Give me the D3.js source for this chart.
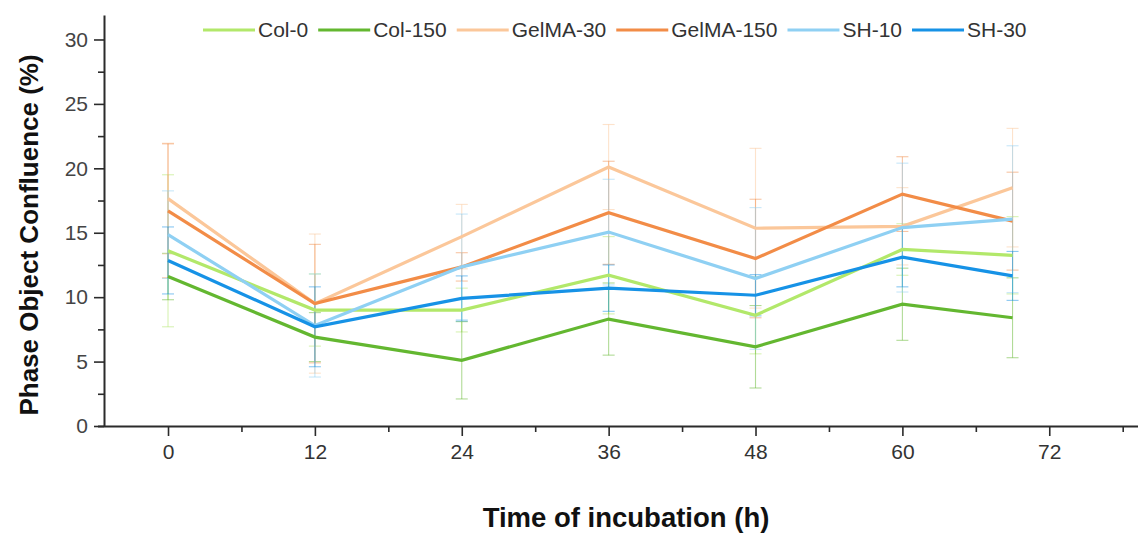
<!DOCTYPE html>
<html>
<head>
<meta charset="utf-8">
<script src="https://cdn.jsdelivr.net/npm/d3@7"></script>
<style>
  html, body { margin: 0; padding: 0; background: #fff; }
  svg { display: block; font-family: "Liberation Sans", Arial, sans-serif; }
</style>
</head>
<body>
<svg id="chart" width="1138" height="533"></svg>
<script>
// ---- data ----
const hours = [0, 12, 24, 36, 48, 60, 69];
const seriesNames = ["Col-0", "Col-150", "GelMA-30", "GelMA-150", "SH-10", "SH-30"];
const col0      = [13.6, 9.0, 9.0, 11.7, 8.6, 13.7, 13.25];
const col150    = [11.6, 6.9, 5.1, 8.3, 6.15, 9.45, 8.4];
const gelma30   = [17.65, 9.5, 14.7, 20.1, 15.35, 15.5, 18.5];
const gelma150  = [16.7, 9.5, 12.35, 16.55, 13.0, 18.0, 15.9];
const sh10      = [14.85, 7.8, 12.35, 15.05, 11.45, 15.4, 16.05];
const sh30      = [12.85, 7.7, 9.9, 10.7, 10.15, 13.1, 11.65];
const col0Err     = [5.9, 2.8, 1.7, 3.0, 3.0, 2.0, 3.0];
const col150Err   = [1.8, 1.9, 3.0, 2.8, 3.2, 2.8, 3.1];
const gelma30Err  = [4.3, 5.4, 2.5, 3.3, 6.2, 3.0, 4.6];
const gelma150Err = [5.2, 4.6, 1.1, 4.0, 4.6, 2.9, 3.8];
const sh10Err     = [3.4, 4.0, 4.1, 4.1, 5.5, 5.0, 5.7];
const sh30Err     = [2.6, 3.1, 1.75, 1.8, 1.6, 2.3, 1.9];
const xTicks = [0, 12, 24, 36, 48, 60, 72];
const yTicks = [0, 5, 10, 15, 20, 25, 30];
const xTitle = "Time of incubation (h)";
const yTitle = "Phase Object Confluence (%)";

const values = [col0, col150, gelma30, gelma150, sh10, sh30];
const errors = [col0Err, col150Err, gelma30Err, gelma150Err, sh10Err, sh30Err];
const colors = ["#b2e86a", "#63b730", "#fbc79a", "#f28c47", "#8fd0f3", "#1692e6"];

// ---- layout ----
const svg = d3.select("#chart");
const x = d3.scaleLinear().domain([-5.23, 79.25]).range([104, 1138]);
const y = d3.scaleLinear().domain([0, 31.9]).range([426, 15]);
const axisColor = "#2b2b2b";

const g = svg.append("g");
// x axis
const xAxis = d3.axisBottom(x).tickValues(xTicks).tickSize(10).tickSizeOuter(0).tickPadding(8);
const xg = g.append("g").attr("transform", `translate(0,${y(0)})`).call(xAxis);
const xMinor = d3.axisBottom(x).tickValues(d3.range(6, 80, 12)).tickSize(6).tickFormat("").tickSizeOuter(0);
const xmg = g.append("g").attr("transform", `translate(0,${y(0)})`).call(xMinor);
xmg.select(".domain").remove();
// y axis
const yAxis = d3.axisLeft(y).tickValues(yTicks).tickSize(10).tickSizeOuter(0).tickPadding(6);
const yg = g.append("g").attr("transform", `translate(${x.range()[0]},0)`).call(yAxis);
const yMinor = d3.axisLeft(y).tickValues(d3.range(2.5, 31, 5)).tickSize(6).tickFormat("").tickSizeOuter(0);
const ymg = g.append("g").attr("transform", `translate(${x.range()[0]},0)`).call(yMinor);
ymg.select(".domain").remove();

[xg, yg, xmg, ymg].forEach(a => {
  a.selectAll("path.domain").attr("stroke", axisColor).attr("stroke-width", 2);
  a.selectAll(".tick line").attr("stroke", axisColor).attr("stroke-width", 1.6);
});
xg.select(".domain").attr("d", `M98,0.5H1138`);
xg.selectAll(".tick text").attr("font-size", 21).attr("fill", "#333").attr("font-family", "Liberation Sans, Arial, sans-serif");
yg.selectAll(".tick text").attr("font-size", 21).attr("fill", "#444").attr("font-family", "Liberation Sans, Arial, sans-serif");

// titles
svg.append("text")
  .attr("x", 626).attr("y", 527)
  .attr("text-anchor", "middle")
  .attr("font-size", 27.5).attr("font-weight", "bold").attr("fill", "#111")
  .text(xTitle);
svg.append("text")
  .attr("transform", `translate(38,235) rotate(-90)`)
  .attr("text-anchor", "middle")
  .attr("font-size", 26).attr("font-weight", "bold").attr("fill", "#111")
  .text(yTitle);

// error bars
const capW = 6;
seriesNames.forEach((name, i) => {
  const eg = svg.append("g").attr("stroke", colors[i]).attr("stroke-opacity", 0.5).attr("stroke-width", 1.1).attr("fill", "none");
  hours.forEach((h, j) => {
    const v = values[i][j], e = errors[i][j];
    const cx = x(h);
    eg.append("line").attr("x1", cx).attr("x2", cx).attr("y1", y(v - e)).attr("y2", y(v + e));
    eg.append("line").attr("x1", cx - capW).attr("x2", cx + capW).attr("y1", y(v + e)).attr("y2", y(v + e));
    eg.append("line").attr("x1", cx - capW).attr("x2", cx + capW).attr("y1", y(v - e)).attr("y2", y(v - e));
  });
});

// lines
const line = d3.line().x((d, j) => x(hours[j])).y(d => y(d));
seriesNames.forEach((name, i) => {
  svg.append("path")
    .datum(values[i])
    .attr("fill", "none")
    .attr("stroke", colors[i])
    .attr("stroke-width", 3.2)
    .attr("stroke-linejoin", "miter")
    .attr("d", line);
});

// legend
const leg = svg.append("g");
let lx = 203;
const ly = 30;
seriesNames.forEach((name, i) => {
  leg.append("line").attr("x1", lx).attr("x2", lx + 52).attr("y1", ly).attr("y2", ly)
    .attr("stroke", colors[i]).attr("stroke-width", 3);
  const t = leg.append("text").attr("x", lx + 55).attr("y", ly).attr("dy", "0.35em")
    .attr("font-size", 21).attr("fill", "#333").text(name);
  lx += 55 + t.node().getComputedTextLength() + 10;
});
</script>
</body>
</html>
